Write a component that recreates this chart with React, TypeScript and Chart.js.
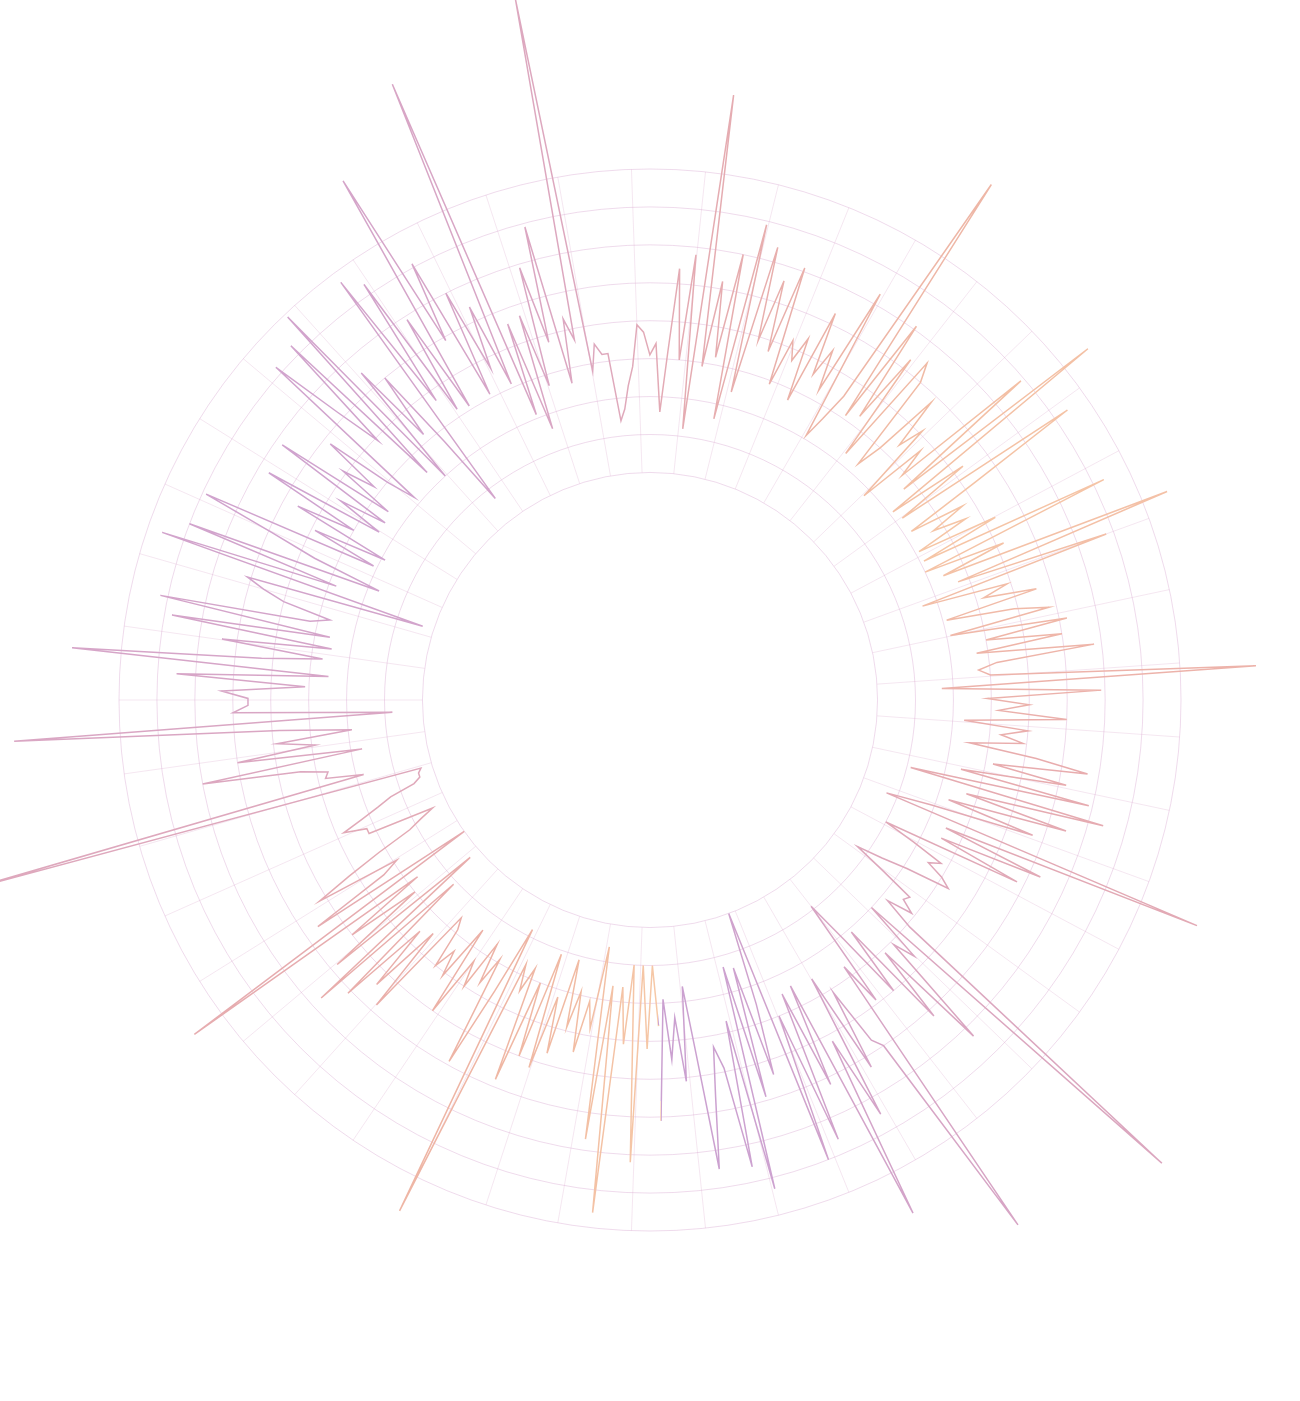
import React, { useEffect, useRef } from 'react';
import { Chart, registerables } from 'chart.js';

Chart.register(...registerables);

// one value per day, going clockwise from the bottom of the circle
const VALUES: number[] = [
  26, 10, 32, 10, 62, 10, 31, 16, 76, 16, 57, 6, 28, 21, 35, 19, 29, 11, 37, 22,
  42, 11, 40, 20, 48, 17, 24, 17, 90, 8, 27, 49, 19, 27, 16, 30, 23, 40, 15, 31,
  24, 30, 19, 16, 48, 24, 44, 26, 51, 11, 57, 3, 48, 20, 40, 17, 89, 0, 46, 24,
  19, 42, 32, 22, 12, 8, 4, 22, 22, 28, 22, 17, 13, 6, 4, 4, 3, 130, 18, 28,
  27, 34, 60, 17, 50, 29, 39, 19, 38, 108, 8, 50, 46, 46, 53, 31, 65, 25, 93, 43,
  27, 54, 25, 68, 26, 72, 32, 27, 40, 46, 51, 3, 76, 28, 70, 17, 36, 49, 69, 21,
  39, 19, 46, 30, 57, 24, 37, 24, 58, 25, 41, 32, 48, 30, 22, 72, 52, 39, 73, 24,
  79, 20, 55, 32, 50, 27, 7, 77, 37, 73, 32, 59, 31, 99, 49, 71, 31, 60, 37, 54,
  31, 116, 21, 46, 16, 47, 27, 59, 38, 69, 26, 43, 37, 128, 28, 35, 32, 32, 14, 17,
  23, 28, 39, 37, 31, 34, 16, 32, 54, 30, 58, 12, 101, 29, 52, 32, 60, 16, 69, 24,
  64, 39, 56, 37, 61, 29, 42, 37, 44, 27, 53, 36, 44, 33, 63, 21, 27, 35, 103, 31,
  61, 33, 53, 23, 55, 50, 23, 30, 48, 34, 41, 18, 37, 29, 69, 27, 88, 21, 43, 22,
  74, 43, 22, 37, 27, 36, 21, 43, 21, 73, 20, 42, 24, 87, 27, 68, 16, 39, 32, 46,
  21, 39, 48, 21, 52, 30, 50, 27, 58, 32, 27, 30, 100, 17, 59, 29, 40, 32, 50, 23,
  40, 33, 39, 25, 43, 57, 32, 52, 24, 59, 11, 64, 27, 55, 23, 47, 19, 7, 96, 25,
  53, 25, 48, 10, 19, 28, 25, 30, 33, 21, 14, 7, 16, 26, 25, 29, 22, 31, 122, 20,
  37, 31, 63, 31, 52, 21, 40, 21, 9, 39, 27, 109, 50, 47, 31, 53, 25, 65, 42, 92,
  24, 52, 25, 66, 30, 70, 0, 25, 44, 14, 49, 13, 73, 27, 66, 39, 33, 46, 65, 34,
  16, 41, 24, 35, 19, 51
];

// 365 angular slots: the last value lands on the same angle as the first
const LABELS: string[] = Array.from({ length: 365 }, (_, i) => `Day ${i + 1}`);

const START_ANGLE = 178.5; // degrees, clockwise from 12 o'clock
const SCALE_MIN = -60;
const SCALE_MAX = 80;
const RING_STEP = 10;
const SPOKE_ANGLES: number[] = Array.from({ length: 45 }, (_, k) => 6 + 8 * k);

// colour of the line around the circle (degrees clockwise from 12 o'clock, unwrapped from START_ANGLE)
const COLOR_ANGLES: number[] = [178.5, 195, 215, 235, 255, 275, 300, 325, 345, 365, 385, 405, 422, 440, 460, 480, 505, 525, 538.5];
const COLOR_VALUES: string[] = [
  '#f6c8a6', '#f1bba3', '#ecb1a6', '#e6acb0', '#dea8bd', '#d6a5c8', '#cfa3cf', '#d3a4cb', '#dba7c2',
  '#e4abb3', '#ebb2a8', '#f2bda4', '#f6c6a6', '#efb6a8', '#e8acae', '#dfa8b9', '#d7a5c5', '#cda2d0', '#caa0d0'
];

const RING_COLOR = 'rgba(212, 160, 205, 0.38)';
const SPOKE_COLOR = 'rgba(218, 170, 205, 0.28)';

function makeGradient(chart: any) {
  const s = chart.scales && chart.scales.r;
  if (!s || !Number.isFinite(s.xCenter) || !Number.isFinite(s.yCenter) || !chart.ctx.createConicGradient) return null;
  const start = ((START_ANGLE - 90) * Math.PI) / 180;
  const g = chart.ctx.createConicGradient(start, s.xCenter, s.yCenter);
  COLOR_ANGLES.forEach((deg, i) => {
    g.addColorStop(Math.min(1, Math.max(0, (deg - START_ANGLE) / 360)), COLOR_VALUES[i]);
  });
  return g;
}

const spokePlugin = {
  id: 'spokes',
  beforeDatasetsDraw(chart: any) {
    const s = chart.scales.r;
    if (!s) return;
    const ctx = chart.ctx;
    const r0 = s.getDistanceFromCenterForValue(0);
    const r1 = s.getDistanceFromCenterForValue(SCALE_MAX);
    ctx.save();
    ctx.strokeStyle = SPOKE_COLOR;
    ctx.lineWidth = 1;
    for (const deg of SPOKE_ANGLES) {
      const a = ((deg - 90) * Math.PI) / 180;
      ctx.beginPath();
      ctx.moveTo(s.xCenter + r0 * Math.cos(a), s.yCenter + r0 * Math.sin(a));
      ctx.lineTo(s.xCenter + r1 * Math.cos(a), s.yCenter + r1 * Math.sin(a));
      ctx.stroke();
    }
    ctx.restore();
    const g = makeGradient(chart);
    const meta = chart.getDatasetMeta(0);
    if (g && meta && meta.dataset && meta.dataset.options) {
      meta.dataset.options.borderColor = g;
    }
  },
};

export default function App() {
  const ref = useRef<HTMLCanvasElement | null>(null);

  useEffect(() => {
    if (!ref.current) return;
    const chart = new Chart(ref.current, {
      type: 'radar',
      data: {
        labels: LABELS,
        datasets: [
          {
            data: VALUES,
            borderColor: '#dba7c2',
            borderWidth: 1.5,
            pointRadius: 0,
            pointHoverRadius: 0,
            fill: false,
            tension: 0,
            clip: false,
            spanGaps: false,
          } as any,
        ],
      },
      options: {
        animation: false,
        responsive: true,
        maintainAspectRatio: false,
        layout: { padding: 119 },
        plugins: { legend: { display: false }, tooltip: { enabled: false }, title: { display: false } },
        elements: { line: { borderJoinStyle: 'miter' } },
        scales: {
          r: {
            min: SCALE_MIN,
            max: SCALE_MAX,
            startAngle: START_ANGLE,
            ticks: { display: false, stepSize: RING_STEP },
            pointLabels: { display: false },
            angleLines: { display: false },
            grid: {
              circular: true,
              lineWidth: 1,
              color: (ctx: any) => (ctx.tick && ctx.tick.value >= 0 ? RING_COLOR : 'rgba(0,0,0,0)'),
            },
          },
        },
      } as any,
      plugins: [spokePlugin],
    });
    return () => chart.destroy();
  }, []);

  return (
    <div style={{ position: 'fixed', left: 0, top: 0, width: '100vw', height: '100vh', background: '#ffffff' }}>
      <canvas ref={ref} />
    </div>
  );
}
